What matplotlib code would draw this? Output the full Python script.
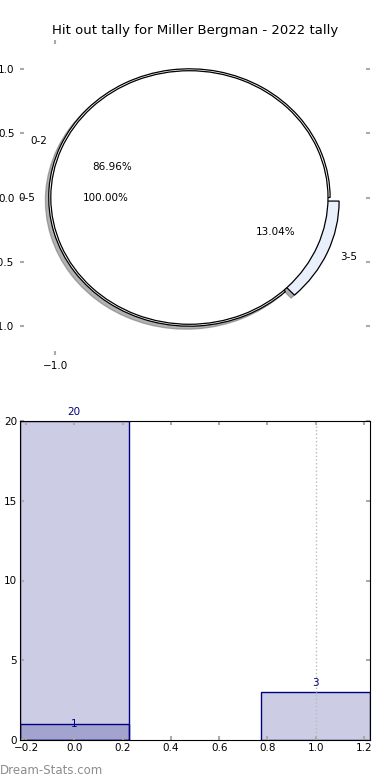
import matplotlib
matplotlib.use("Agg")
import matplotlib.pyplot as plt
from matplotlib.ticker import FuncFormatter

# data
player = "Miller Bergman"
season = "2022"
outer_labels = ["0-2", "3-5"]
outer_values = [20, 3]
outer_colors = ["#ffffff", "#eaf0fb"]
outer_explode = [0, 0.07]
inner_labels = ["0-5"]
inner_values = [23]
inner_colors = ["#ffffff"]

bar_pos = [0, 1]
bar_values = [20, 3]
overlay_pos = [0]
overlay_values = [1]
ref_line_x = 1.0

navy = "#000080"
tick_grey = "#aaaaaa"

fig = plt.figure(figsize=(3.9, 7.8), dpi=100)

# pie chart (outer ring of tallies + full inner circle)
ax1 = fig.add_axes([20 / 390, 1 - 355 / 780, 350 / 390, 315 / 780])
wp = {"edgecolor": "black", "linewidth": 0.9}
ax1.pie(outer_values, labels=outer_labels, colors=outer_colors, explode=outer_explode,
        autopct="%.2f%%", shadow={"ox": -0.017, "oy": -0.017, "shade": 0.6},
        center=(-0.04, 0), radius=1.005,
        wedgeprops=wp, textprops={"fontsize": 7.5})
ax1.pie(inner_values, labels=inner_labels, colors=inner_colors,
        autopct="%.2f%%", center=(-0.04, 0), radius=0.99,
        labeldistance=1.11, pctdistance=0.6,
        wedgeprops=wp, textprops={"fontsize": 7.5})
ax1.set_aspect("auto")
ax1.set_frame_on(True)
for s in ax1.spines.values():
    s.set_visible(False)
ax1.set_xlim(-1.25, 1.25)
ax1.set_ylim(-1.23, 1.23)
ax1.set_xticks([-1.0])
ax1.set_yticks([-1.0, -0.5, 0.0, 0.5, 1.0])
ax1.xaxis.set_major_formatter(FuncFormatter(lambda v, p: ("%.1f" % v).replace("-", "\u2212")))
ax1.tick_params(direction="in", color=tick_grey, width=1.5, length=3,
                top=True, right=True, labelsize=7.5, pad=4)
ax1.set_title("Hit out tally for %s - %s tally" % (player, season), fontsize=9.5, pad=4)

# bar chart
ax2 = fig.add_axes([20 / 390, 40 / 780, 350 / 390, 319 / 780])
ax2.bar(bar_pos, bar_values, width=0.45, color=(0, 0, 0.5, 0.2), edgecolor=navy, linewidth=1)
ax2.bar(overlay_pos, overlay_values, width=0.45, color=(0, 0, 0.5, 0.2), edgecolor=navy, linewidth=1)
for x, v in zip(bar_pos, bar_values):
    ax2.text(x, v + 0.25, str(v), ha="center", va="bottom", color=navy, fontsize=7.5)
for x, v in zip(overlay_pos, overlay_values):
    ax2.text(x, v, str(v), ha="center", va="center", color=navy, fontsize=7.5)
ax2.axvline(ref_line_x, color="#bbbbbb", linestyle=":", linewidth=1)
ax2.set_xlim(-0.225, 1.225)
ax2.set_ylim(0, 20)
ax2.set_xticks([-0.2, 0.0, 0.2, 0.4, 0.6, 0.8, 1.0, 1.2])
ax2.set_yticks([0, 5, 10, 15, 20])
ax2.tick_params(direction="in", color=tick_grey, width=1.5, length=3,
                top=True, right=True, labelsize=7.5, pad=2)

fig.text(0.0, 0.004, "Dream-Stats.com", color="#8c8c8c", fontsize=8.5, ha="left", va="bottom")

fig.savefig("out.png", dpi=100)
